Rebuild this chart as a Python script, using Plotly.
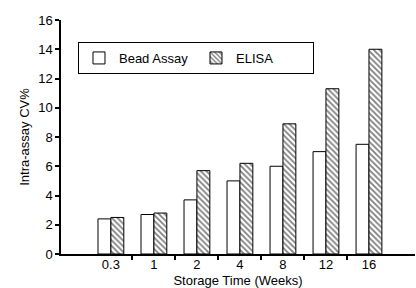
import plotly.graph_objects as go

categories = ["0.3", "1", "2", "4", "8", "12", "16"]
bead_assay = [2.4, 2.7, 3.7, 5.0, 6.0, 7.0, 7.5]
elisa = [2.5, 2.8, 5.7, 6.2, 8.9, 11.3, 14.0]
y_ticks = [0, 2, 4, 6, 8, 10, 12, 14, 16]

pos = list(range(len(categories)))
boundaries = [i + 0.5 for i in pos[:-1]]

fig = go.Figure()
fig.add_trace(go.Bar(
    x=pos, y=bead_assay, name="Bead Assay",
    marker=dict(color="white", line=dict(color="black", width=1)),
))
fig.add_trace(go.Bar(
    x=pos, y=elisa, name="ELISA",
    marker=dict(color="white", line=dict(color="black", width=1),
                pattern=dict(shape="\\", fgcolor="black", bgcolor="white",
                             size=4, solidity=0.45)),
))

font = dict(family="Liberation Sans, Arial, Helvetica, sans-serif", size=13, color="black")

fig.update_layout(
    width=416, height=288,
    margin=dict(l=61, r=1, t=20, b=34),
    paper_bgcolor="white", plot_bgcolor="white",
    barmode="group", bargap=0.4, bargroupgap=0,
    font=font,
    showlegend=True,
    legend=dict(
        orientation="h", x=0.048, y=0.906, xanchor="left", yanchor="top",
        bordercolor="black", borderwidth=1, bgcolor="white",
        font=dict(family=font["family"], size=13, color="black"),
        entrywidth=72, entrywidthmode="pixels",
        tracegroupgap=0, itemwidth=30,
    ),
    xaxis=dict(
        range=[-1.16, 7.07], automargin=False,
        tickmode="array", tickvals=pos, ticktext=categories,
        ticks="", showgrid=False, zeroline=False,
        showline=True, linecolor="black", linewidth=1.5,
        minor=dict(tickmode="array", tickvals=boundaries, ticks="outside",
                   ticklen=4, tickcolor="black", tickwidth=1.5, showgrid=False),
        title=dict(text="Storage Time (Weeks)", font=font),
        tickfont=font, ticklabelstandoff=-2,
    ),
    yaxis=dict(
        range=[0, 16], automargin=True,
        tickmode="array", tickvals=y_ticks,
        ticks="outside", ticklen=4, tickcolor="black", tickwidth=1.5,
        showgrid=False, zeroline=False,
        showline=True, linecolor="black", linewidth=1.5,
        title=dict(text="Intra-assay CV%", font=font, standoff=6),
        tickfont=font,
    ),
)

fig.write_html("out.html", config={"displayModeBar": False},
               post_script="document.body.style.margin='0';")
